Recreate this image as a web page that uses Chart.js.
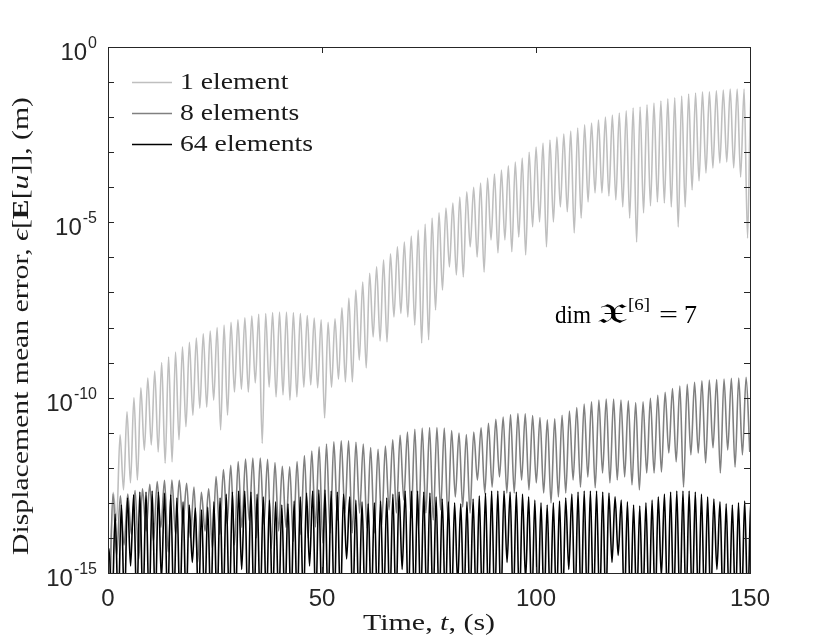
<!DOCTYPE html>
<html>
<head>
<meta charset="utf-8">
<script src="https://cdn.jsdelivr.net/npm/chart.js@4.4.1/dist/chart.umd.min.js"></script>
<style>
  html, body { margin: 0; padding: 0; background: #fff; }
  #wrap { width: 830px; height: 642px; }
</style>
</head>
<body>
<div id="wrap"><canvas id="errChart" width="830" height="642"></canvas></div>
<script>
// axis ticks and legend names
const xTicks = [0, 50, 100, 150];
const yTickExps = [0, -5, -10, -15];
const seriesNames = ['1 element', '8 elements', '64 elements'];

// values are log10 of the error, one oscillation at a time
// peaks[k] sits at t0 + k*period, dips[k] half a period before it

// 1 element
const t0One = 1.2, periodOne = 1.62;
const peaksOne = [
  -12.7, -11.06, -10.4, -10.0, -9.72, -9.44, -9.24, -9.0, -8.84, -8.7,
  -8.55, -8.42, -8.3, -8.18, -8.1, -8.0, -7.93, -7.85, -7.78, -7.72,
  -7.67, -7.62, -7.6, -7.57, -7.56, -7.56, -7.57, -7.6, -7.66, -7.73,
  -7.78, -7.85, -7.75, -7.44, -7.16, -6.93, -6.7, -6.45, -6.27, -6.07,
  -5.9, -5.7, -5.56, -5.39, -5.22, -5.05, -4.88, -4.73, -4.59, -4.45,
  -4.28, -4.13, -4.0, -3.88, -3.74, -3.62, -3.51, -3.39, -3.28, -3.17,
  -3.0, -2.85, -2.74, -2.65, -2.57, -2.48, -2.4, -2.31, -2.22, -2.17,
  -2.08, -2.0, -1.94, -1.88, -1.82, -1.74, -1.71, -1.65, -1.6, -1.54,
  -1.48, -1.45, -1.4, -1.34, -1.31, -1.28, -1.28, -1.25, -1.23, -1.2,
  -1.2, -1.2, -1.17
];
const dipsOne = [
  -16,
  -13.5, -12.63, -12.43, -12.35, -11.5, -11.35, -11.55, -11.87, -11.83, -11.2,
  -10.83, -10.5, -10.3, -10.27, -10.07, -10.92, -10.5, -9.84, -9.76, -9.84,
  -9.58, -11.3, -9.7, -9.98, -9.92, -10.07, -9.98, -9.7, -9.64, -9.72,
  -10.58, -9.7, -9.47, -9.55, -9.55, -8.93, -9.15, -8.27, -8.38, -8.41,
  -7.7, -7.6, -7.7, -7.93, -8.44, -8.35, -7.5, -6.93, -6.27, -6.5,
  -6.56, -5.7, -5.99, -6.42, -5.5, -5.87, -5.5, -5.84, -5.42, -5.93,
  -5.13, -4.99, -5.7, -4.99, -4.56, -4.7, -5.3, -4.88, -4.42, -4.16,
  -4.16, -4.25, -4.36, -4.56, -4.88, -5.56, -4.73, -4.53, -4.42, -4.45,
  -4.56, -5.13, -4.56, -4.08, -3.82, -3.59, -3.45, -3.31, -3.28, -3.45,
  -3.71, -5.45, -3.65
];

// 8 elements
const t0Eight = 1.17, periodEight = 1.72;
const peaksEight = [
  -12.75, -12.8, -12.75, -12.65, -12.6, -12.47, -12.39, -12.36, -12.35, -12.36,
  -12.44, -12.55, -12.7, -12.6, -12.25, -12.05, -11.93, -11.82, -11.75, -11.72,
  -11.72, -11.76, -11.85, -11.96, -11.97, -11.82, -11.65, -11.52, -11.4, -11.32,
  -11.26, -11.23, -11.23, -11.27, -11.32, -11.42, -11.47, -11.38, -11.2, -11.07,
  -10.98, -10.9, -10.87, -10.85, -10.85, -10.87, -10.94, -11.01, -11.05, -10.98,
  -10.86, -10.73, -10.62, -10.55, -10.48, -10.45, -10.46, -10.51, -10.57, -10.63,
  -10.6, -10.5, -10.38, -10.28, -10.18, -10.12, -10.07, -10.04, -10.04, -10.07,
  -10.09, -10.14, -10.12, -10.02, -9.93, -9.85, -9.74, -9.67, -9.62, -9.56,
  -9.52, -9.5, -9.48, -9.47, -9.45, -9.44, -9.42
];
const dipsEight = [
  -16,
  -14.5, -14.2, -13.9, -14.6, -13.8, -14.1, -13.7, -14.4, -13.9, -13.6,
  -14.0, -14.7, -13.8, -14.3, -13.9, -13.6, -14.2, -13.7, -13.5, -14.0,
  -13.6, -14.3, -13.8, -13.7, -14.1, -13.9,
  -14.0, -13.69, -14.14, -13.86, -13.49, -13.29, -13.86, -13.29, -13.72, -13.86,
  -13.63, -13.2, -13.29, -12.92, -13.43, -13.72, -13.29, -13.49, -13.2, -13.43,
  -12.83, -13.12, -13.29, -12.35, -12.72, -12.55, -12.26, -12.72, -12.72, -12.35,
  -12.63, -12.43, -12.72, -13.0, -12.83, -12.72, -12.35, -12.55, -12.26, -12.57,
  -12.15, -12.43, -12.35, -12.26, -12.49, -12.63, -12.15, -12.15, -12.12, -11.58,
  -11.83, -12.55, -11.63, -11.58, -11.86, -11.43, -12.15, -11.49, -11.98, -11.63,
  -11.55
];

// 64 elements
const t0SixtyFour = 0.23, periodSixtyFour = 1.442;
const peaksSixtyFour = [
  -14.3, -13.32, -13.06, -12.86, -12.77, -12.69, -12.69, -12.66, -12.69, -12.72,
  -12.77, -12.86, -12.97, -13.06, -13.15, -13.2, -13.12, -12.97, -12.86, -12.75,
  -12.69, -12.66, -12.66, -12.69, -12.75,
  -12.83, -12.92, -12.97, -13.06, -13.03, -12.95, -12.83, -12.72, -12.66, -12.63,
  -12.63, -12.66, -12.69, -12.75, -12.83, -12.92, -12.97, -13.03, -13.0, -12.95,
  -12.86, -12.75, -12.69, -12.66, -12.66, -12.66,
  -12.69, -12.72, -12.83, -12.89, -12.97, -13.0, -13.03, -12.97, -12.89, -12.8,
  -12.72, -12.66, -12.66, -12.66, -12.69, -12.69, -12.75, -12.83, -12.92, -13.0,
  -13.06, -13.0, -12.95, -12.86, -12.75, -12.69, -12.66,
  -12.66, -12.66, -12.69, -12.72, -12.83, -12.92, -12.97, -13.06, -13.09, -13.0,
  -12.92, -12.83, -12.75, -12.69, -12.66, -12.66, -12.66, -12.69, -12.75, -12.83,
  -12.89, -12.97, -13.03, -13.06, -13.0, -12.95, -12.89
];
const dipsSixtyFour = [
  -16,
  -16, -16, -16, -14.8, -16, -16, -16, -16, -15.2, -16, -16, -16, -16, -14.7, -16,
  -16, -16, -16, -16, -16, -16, -14.9, -16, -16, -16, -16, -16, -16, -16, -16,
  -16, -16, -14.8, -16, -16, -16, -16, -16, -14.6, -16, -16, -16, -16, -16, -16,
  -16, -16, -14.9, -16, -16, -16, -16, -16, -16, -16, -16, -15.3, -16, -16, -16,
  -16, -16, -16, -16, -14.7, -16, -16, -15.2, -16, -16, -16, -16, -16, -16, -14.9,
  -16, -16, -16, -16, -16, -16, -14.7, -14.5, -16, -16, -16, -16, -16, -16, -15.1,
  -16, -16, -16, -16, -16, -16, -16, -16, -14.9, -16, -16, -16, -16, -16, -16
];

const SERIF = '"Liberation Serif", "DejaVu Serif", serif';
const SANS = '"Liberation Sans", Arial, sans-serif';
const AXIS_COLOR = '#262626';
const lineColors = ['#bfbfbf', '#808080', '#000000'];

// one point per dip and per peak, in time order
function buildPoints(t0, period, peaks, dips) {
  const pts = [];
  for (let k = 0; k < dips.length; k++) {
    pts.push({ x: t0 + (k - 0.5) * period, y: Math.pow(10, dips[k]) });
    if (k < peaks.length) pts.push({ x: t0 + k * period, y: Math.pow(10, peaks[k]) });
  }
  return pts;
}

function richWidth(ctx, segs) {
  let w = 0;
  for (const s of segs) { ctx.font = s.font; w += ctx.measureText(s.text).width; }
  return w;
}

// draws mixed-font text, squeezed or stretched to a given width
function drawRich(ctx, segs, x, y, width, align) {
  const natural = richWidth(ctx, segs);
  const sx = width ? width / natural : 1;
  ctx.save();
  ctx.translate(x, y);
  ctx.scale(sx, 1);
  let cx = align === 'center' ? -natural / 2 : 0;
  ctx.textAlign = 'left';
  for (const s of segs) {
    ctx.font = s.font;
    ctx.fillText(s.text, cx, s.dy || 0);
    cx += ctx.measureText(s.text).width;
  }
  ctx.restore();
}

const framePlugin = {
  id: 'frame',
  afterDraw(chart) {
    const { ctx, chartArea: a, scales } = chart;
    const xs = scales.x, ys = scales.y;
    ctx.save();
    ctx.strokeStyle = AXIS_COLOR;
    ctx.lineWidth = 1;
    ctx.strokeRect(a.left + 0.5, a.top + 0.5, a.right - a.left, a.bottom - a.top);

    // inward ticks
    ctx.beginPath();
    for (let e = 0; e >= -15; e--) {
      const py = Math.round(ys.getPixelForValue(Math.pow(10, e))) + 0.5;
      ctx.moveTo(a.left, py); ctx.lineTo(a.left + 6, py);
      ctx.moveTo(a.right, py); ctx.lineTo(a.right - 6, py);
    }
    for (const v of xTicks) {
      const px = Math.round(xs.getPixelForValue(v)) + 0.5;
      ctx.moveTo(px, a.bottom); ctx.lineTo(px, a.bottom - 6);
      ctx.moveTo(px, a.top); ctx.lineTo(px, a.top + 6);
    }
    ctx.stroke();

    // y tick labels 10^n
    ctx.fillStyle = AXIS_COLOR;
    ctx.textBaseline = 'alphabetic';
    ctx.textAlign = 'right';
    for (const e of yTickExps) {
      const py = ys.getPixelForValue(Math.pow(10, e));
      const sup = String(e);
      ctx.font = '16px ' + SANS;
      const wSup = ctx.measureText(sup).width;
      ctx.fillText(sup, 97, py + 1);
      ctx.font = '24px ' + SANS;
      ctx.fillText('10', 97 - wSup - 1, py + 13);
    }

    // axis titles
    ctx.fillStyle = '#1a1a1a';
    ctx.textBaseline = 'middle';
    drawRich(ctx, [
      { text: 'Time, ', font: '24px ' + SERIF },
      { text: 't', font: 'italic 24px ' + SERIF },
      { text: ', (s)', font: '24px ' + SERIF }
    ], 429, 624, 132, 'center');

    ctx.save();
    ctx.translate(22, 326);
    ctx.rotate(-Math.PI / 2);
    drawRich(ctx, [
      { text: 'Displacement mean error, ', font: '24px ' + SERIF },
      { text: 'ϵ', font: 'italic 24px ' + SERIF },
      { text: '[', font: '24px ' + SERIF },
      { text: 'E', font: 'bold 24px ' + SERIF },
      { text: '[', font: '24px ' + SERIF },
      { text: 'u', font: 'italic 24px ' + SERIF },
      { text: ']], (m)', font: '24px ' + SERIF }
    ], 0, 0, 458, 'center');
    ctx.restore();

    // legend
    const rows = [82, 113, 144];
    ctx.font = '24px ' + SERIF;
    const legScale = 133 / ctx.measureText(seriesNames[2]).width;
    seriesNames.forEach((name, i) => {
      ctx.strokeStyle = lineColors[i];
      ctx.lineWidth = 1.6;
      ctx.beginPath();
      ctx.moveTo(132, rows[i] + 0.5); ctx.lineTo(172, rows[i] + 0.5);
      ctx.stroke();
      ctx.font = '24px ' + SERIF;
      const w = ctx.measureText(name).width * legScale;
      drawRich(ctx, [{ text: name, font: '24px ' + SERIF }], 180, rows[i] + 1, w, 'left');
    });

    // annotation
    ctx.textBaseline = 'alphabetic';
    ctx.fillStyle = '#000';
    drawRich(ctx, [{ text: 'dim', font: '25px ' + SERIF }], 555, 323, 36, 'left');
    drawRich(ctx, [{ text: '𝔛', font: '28px ' + SERIF + ', "DejaVu Sans", "Noto Sans"' }], 597, 323, 30, 'left');
    drawRich(ctx, [{ text: '[6]', font: '17px ' + SERIF }], 628, 310, 22, 'left');
    drawRich(ctx, [{ text: '=', font: '25px ' + SERIF }], 659, 323, 19, 'left');
    drawRich(ctx, [{ text: '7', font: '25px ' + SERIF }], 684, 323, 13, 'left');
    ctx.restore();
  }
};

const lineStyle = {
  pointRadius: 0,
  borderWidth: 1.6,
  cubicInterpolationMode: 'monotone',
  borderJoinStyle: 'round',
  fill: false
};

new Chart(document.getElementById('errChart'), {
  type: 'line',
  data: {
    datasets: [
      Object.assign({ label: seriesNames[0], data: buildPoints(t0One, periodOne, peaksOne, dipsOne),
        borderColor: lineColors[0], order: 2 }, lineStyle),
      Object.assign({ label: seriesNames[1], data: buildPoints(t0Eight, periodEight, peaksEight, dipsEight),
        borderColor: lineColors[1], order: 1 }, lineStyle),
      Object.assign({ label: seriesNames[2], data: buildPoints(t0SixtyFour, periodSixtyFour, peaksSixtyFour, dipsSixtyFour),
        borderColor: lineColors[2], order: 0 }, lineStyle)
    ]
  },
  options: {
    responsive: false,
    animation: false,
    layout: { padding: { left: 0, right: 80, top: 47, bottom: 0 } },
    scales: {
      x: {
        type: 'linear',
        min: 0,
        max: 150,
        afterBuildTicks: (s) => { s.ticks = xTicks.map(v => ({ value: v })); },
        ticks: { font: { family: SANS, size: 24 }, color: AXIS_COLOR, padding: 12, maxRotation: 0, autoSkip: false },
        grid: { display: false, drawTicks: false },
        border: { display: false },
        afterFit: (s) => { s.height = 69; }
      },
      y: {
        type: 'logarithmic',
        min: 1e-15,
        max: 1,
        ticks: { display: false },
        grid: { display: false },
        border: { display: false },
        afterFit: (s) => { s.width = 108; }
      }
    },
    plugins: {
      legend: { display: false },
      tooltip: { enabled: false }
    }
  },
  plugins: [framePlugin]
});
</script>
</body>
</html>
